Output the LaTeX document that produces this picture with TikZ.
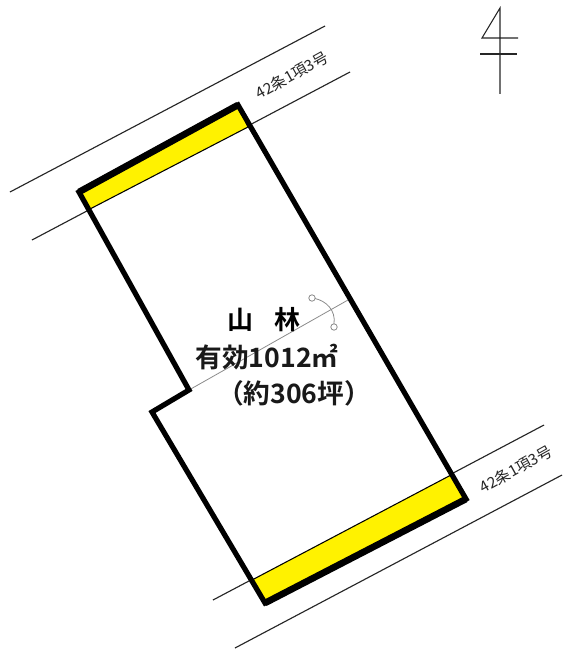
\documentclass[tikz,border=0pt]{standalone}
\usetikzlibrary{calc}
\usepackage{fontspec}
\newfontfamily\jpb{Noto Sans CJK JP Bold}
\newfontfamily\jpm{Noto Sans CJK JP}
\begin{document}
\begin{tikzpicture}[x=0.75pt,y=-0.75pt,
  road/.style={draw=black!85,line width=0.85pt},
  plot/.style={draw=black,line width=3.9pt,line join=miter},
  edgeheavy/.style={draw=black,line width=5pt},
  zone/.style={fill=yellow,draw=black,line width=0.8pt},
  door/.style={draw=black!45,line width=0.6pt},
  north/.style={draw=black!85,line width=0.8pt},
  title/.style={font=\jpb\fontsize{19.5}{22}\selectfont,text=black,inner sep=0pt},
  area/.style={font=\jpb\fontsize{20}{24}\selectfont,text=black!90,inner sep=0pt},
  tag/.style={font=\jpm\fontsize{11.5}{13}\selectfont,text=black!85,inner sep=0pt}]
\useasboundingbox (0,0) rectangle (562,649);
\fill[white] (0,0) rectangle (562,649);
% roads
\coordinate (r1a) at (10,192); \coordinate (r1b) at (325,26);
\coordinate (r2a) at (32,240); \coordinate (r2b) at (350,72);
\coordinate (r3a) at (213,600); \coordinate (r3b) at (544,425);
\coordinate (r4a) at (235,648); \coordinate (r4b) at (562,475);
\draw[road] (r1a) -- (r1b);
\draw[road] (r2a) -- (r2b);
\draw[road] (r3a) -- (r3b);
\draw[road] (r4a) -- (r4b);
% plot corners
\coordinate (A) at (79,192); \coordinate (B) at (238,105);
\coordinate (C) at (466,499); \coordinate (D) at (265,603);
\coordinate (E) at (152,412); \coordinate (F) at (189,390);
\coordinate (yA) at (90,209); \coordinate (yB) at (248,127);
\coordinate (yC) at (451,475); \coordinate (yD) at (252,580);
% yellow strips
\fill[white] (A) -- (B) -- (C) -- (D) -- (E) -- (F) -- cycle;
\filldraw[zone] (A) -- (B) -- (yB) -- (yA) -- cycle;
\filldraw[zone] (yD) -- (yC) -- (C) -- (D) -- cycle;
% door and partition
\coordinate (d1) at (348,300);
\coordinate (c1) at (312,298); \coordinate (c2) at (334,327);
\draw[door] (F) -- (d1);
\draw[door] ($(c1)+(3,0.5)$) .. controls (326,301) and (336,310) .. ($(c2)+(0,-3)$);
\draw[door] (c1) circle[radius=3.2];
\draw[door] (c2) circle[radius=3.2];
% outline
\draw[plot] (A) -- (B) -- (C) -- (D) -- (E) -- (F) -- cycle;
\draw[edgeheavy] (A) -- (B);
\draw[edgeheavy] (C) -- (D);
% north
\coordinate (n1) at (500,8); \coordinate (n2) at (482,38); \coordinate (n3) at (518,38);
\coordinate (n4) at (480,54); \coordinate (n5) at (517,54); \coordinate (n6) at (500,94);
\draw[north] (n3) -- (n2) -- (n1) -- (n6);
\draw[north] (n4) -- (n5);
% text
\node[title] (t1) at (264,320) {山\hspace{0.77em}林};
\node[area] (t2) at (267,357) {有効1012㎡};
\node[area] (t3) at (294,393) {（約306坪）};
\node[tag,rotate=29] (l1) at (292,75) {42条1項3号};
\node[tag,rotate=29] (l2) at (516,469) {42条1項3号};
\end{tikzpicture}
\end{document}
